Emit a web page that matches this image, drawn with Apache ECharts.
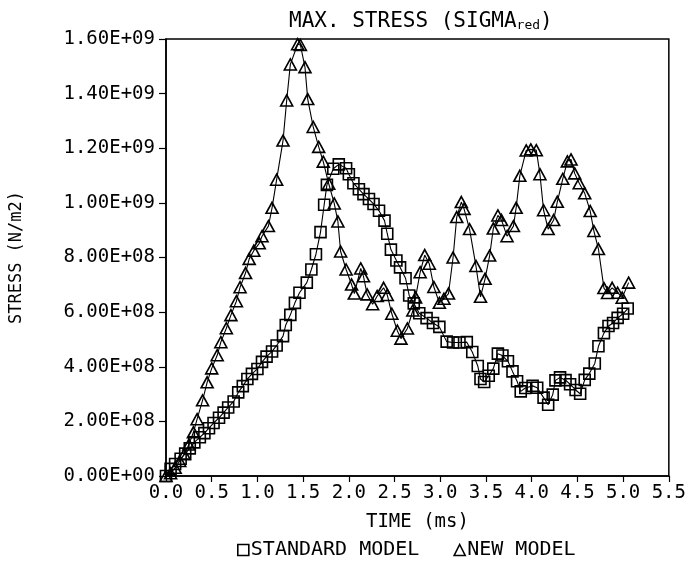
<!DOCTYPE html>
<html>
<head>
<meta charset="utf-8">
<script src="https://cdn.jsdelivr.net/npm/echarts@6/dist/echarts.min.js"></script>
<style>
html,body{margin:0;padding:0;background:#fff;}
#chart{width:689px;height:567px;}
</style>
</head>
<body>
<div id="chart"></div>
<script>
// ---- data (time in ms, stress in N/m2) ----
const stdTime = [0.00,0.05,0.10,0.16,0.21,0.26,0.31,0.37,0.42,0.47,0.52,0.58,0.63,0.68,0.74,0.79,0.84,0.89,0.94,1.00,
  1.05,1.10,1.16,1.21,1.28,1.31,1.36,1.41,1.46,1.54,1.59,1.64,1.69,1.73,1.76,1.83,1.89,1.97,2.00,2.05,
  2.11,2.16,2.22,2.27,2.33,2.39,2.42,2.46,2.52,2.56,2.62,2.66,2.71,2.77,2.85,2.92,2.99,3.07,3.14,3.21,
  3.29,3.35,3.41,3.44,3.48,3.53,3.58,3.63,3.68,3.74,3.79,3.84,3.88,3.93,4.01,4.06,4.13,4.18,4.23,4.26,
  4.31,4.37,4.42,4.48,4.53,4.58,4.63,4.69,4.73,4.79,4.84,4.89,4.94,5.00,5.05];
const stdStress = [0.00e8,0.26e8,0.44e8,0.63e8,0.82e8,1.01e8,1.23e8,1.42e8,1.57e8,1.75e8,1.94e8,2.13e8,2.32e8,2.51e8,2.73e8,3.06e8,3.29e8,3.55e8,3.74e8,3.92e8,
  4.18e8,4.37e8,4.56e8,4.78e8,5.12e8,5.53e8,5.90e8,6.34e8,6.71e8,7.08e8,7.56e8,8.12e8,8.93e8,9.93e8,10.66e8,11.25e8,11.41e8,11.27e8,11.05e8,10.72e8,
  10.50e8,10.32e8,10.14e8,9.96e8,9.71e8,9.35e8,8.87e8,8.29e8,7.89e8,7.64e8,7.24e8,6.61e8,6.32e8,5.96e8,5.78e8,5.60e8,5.46e8,4.92e8,4.89e8,4.89e8,
  4.90e8,4.54e8,4.03e8,3.55e8,3.44e8,3.67e8,3.93e8,4.48e8,4.41e8,4.20e8,3.83e8,3.47e8,3.10e8,3.22e8,3.30e8,3.23e8,2.87e8,2.61e8,2.98e8,3.50e8,
  3.61e8,3.51e8,3.36e8,3.15e8,3.01e8,3.52e8,3.75e8,4.12e8,4.75e8,5.23e8,5.49e8,5.60e8,5.79e8,5.94e8,6.13e8];

const newTime = [0.00,0.05,0.10,0.15,0.20,0.25,0.30,0.34,0.40,0.45,0.50,0.56,0.60,0.66,0.71,0.77,0.81,0.87,0.91,0.96,
  1.02,1.05,1.12,1.16,1.21,1.28,1.32,1.36,1.44,1.47,1.52,1.55,1.61,1.67,1.72,1.78,1.84,1.88,1.91,1.97,
  2.03,2.06,2.13,2.16,2.20,2.26,2.31,2.38,2.42,2.47,2.53,2.57,2.64,2.70,2.73,2.78,2.83,2.88,2.93,2.99,
  3.04,3.09,3.14,3.18,3.23,3.26,3.32,3.39,3.44,3.49,3.54,3.58,3.63,3.67,3.73,3.80,3.83,3.87,3.94,3.99,
  4.05,4.09,4.13,4.18,4.24,4.28,4.34,4.39,4.43,4.47,4.52,4.58,4.64,4.68,4.73,4.79,4.83,4.88,4.94,4.99,5.06];
const newStress = [0.00e8,0.10e8,0.30e8,0.55e8,0.80e8,1.15e8,1.60e8,2.08e8,2.77e8,3.43e8,3.94e8,4.42e8,4.90e8,5.41e8,5.89e8,6.40e8,6.91e8,7.43e8,7.95e8,8.25e8,
  8.52e8,8.78e8,9.15e8,9.82e8,10.85e8,12.28e8,13.75e8,15.07e8,15.81e8,15.78e8,14.97e8,13.80e8,12.78e8,12.05e8,11.51e8,10.70e8,9.98e8,9.32e8,8.22e8,7.56e8,
  7.01e8,6.68e8,7.60e8,7.31e8,6.65e8,6.29e8,6.59e8,6.89e8,6.63e8,5.94e8,5.32e8,5.03e8,5.40e8,6.06e8,6.54e8,7.46e8,8.09e8,7.77e8,6.92e8,6.34e8,
  6.49e8,6.68e8,8.00e8,9.48e8,10.03e8,9.78e8,9.04e8,7.69e8,6.56e8,7.22e8,8.07e8,9.06e8,9.54e8,9.37e8,8.78e8,9.15e8,9.82e8,10.99e8,11.92e8,11.96e8,
  11.93e8,11.05e8,9.73e8,9.04e8,9.37e8,10.04e8,10.88e8,11.52e8,11.59e8,11.08e8,10.72e8,10.35e8,9.70e8,8.97e8,8.31e8,6.88e8,6.70e8,6.89e8,6.71e8,6.53e8,7.08e8];

const seriesNames = ['STANDARD MODEL', 'NEW MODEL'];
const titleParts = ['MAX. STRESS (SIGMA', 'red', ')'];
const xAxisName = 'TIME (ms)';
const yAxisName = 'STRESS (N/m2)';

// ---- chart ----
const FONT = '"DejaVu Sans Mono", "Liberation Mono", monospace';
const chart = echarts.init(document.getElementById('chart'), null, {renderer: 'canvas'});

function sciLabel(v) {
  if (Math.abs(v) < 1) return '0.00E+00';
  const e = Math.floor(Math.log10(v) + 1e-9);
  const m = v / Math.pow(10, e);
  return m.toFixed(2) + 'E+' + String(e).padStart(2, '0');
}

const hollow = {color: 'rgba(0,0,0,0)', borderColor: '#000', borderWidth: 1.6};

chart.setOption({
  animation: false,
  backgroundColor: '#fff',
  title: {
    text: '{a|' + titleParts[0] + '}{b|' + titleParts[1] + '}{a|' + titleParts[2] + '}',
    left: 284, top: 6,
    textStyle: {
      fontWeight: 'normal',
      rich: {
        a: {fontFamily: FONT, fontSize: 21, fontWeight: 'normal', color: '#000'},
        b: {fontFamily: FONT, fontSize: 13, fontWeight: 'normal', color: '#000', padding: [8, 0, 0, 0]}
      }
    }
  },
  legend: {
    left: 232, top: 535,
    itemWidth: 11, itemHeight: 11, itemGap: 34,
    textStyle: {fontFamily: FONT, fontSize: 20, color: '#000', padding: [0, 0, 0, -3]},
    data: [
      {name: seriesNames[0], icon: 'rect', itemStyle: hollow},
      {name: seriesNames[1], icon: 'triangle', itemStyle: hollow}
    ]
  },
  grid: {left: 166, right: 13, top: 39, bottom: 91, show: true, borderColor: '#000', borderWidth: 1.5, backgroundColor: 'transparent'},
  xAxis: {
    type: 'value', min: 0, max: 5.5, interval: 0.5,
    name: xAxisName, nameLocation: 'middle', nameGap: 37,
    nameTextStyle: {fontFamily: FONT, fontSize: 19, color: '#000'},
    axisLine: {lineStyle: {color: '#000', width: 1.5}},
    axisTick: {inside: false, length: 6, lineStyle: {color: '#000', width: 1.2}},
    axisLabel: {fontFamily: FONT, fontSize: 19, color: '#000', margin: 8, hideOverlap: false,
      formatter: v => v.toFixed(1)},
    splitLine: {show: false}
  },
  yAxis: {
    type: 'value', min: 0, max: 1.6e9, interval: 2e8,
    name: yAxisName, nameLocation: 'middle', nameGap: 141, nameRotate: 90,
    nameTextStyle: {fontFamily: FONT, fontSize: 17, color: '#000'},
    axisLine: {show: true, lineStyle: {color: '#000', width: 1.5}},
    axisTick: {show: true, inside: false, length: 7, lineStyle: {color: '#000', width: 1.2}},
    axisLabel: {fontFamily: FONT, fontSize: 19, color: '#000', margin: 11, formatter: sciLabel},
    splitLine: {show: false}
  },
  series: [
    {
      name: seriesNames[0], type: 'line',
      data: stdTime.map((t, i) => [t, stdStress[i]]),
      symbol: 'rect', symbolSize: 11, showAllSymbol: true,
      lineStyle: {color: '#000', width: 1.1},
      itemStyle: hollow,
      emphasis: {disabled: true}
    },
    {
      name: seriesNames[1], type: 'line',
      data: newTime.map((t, i) => [t, newStress[i]]),
      symbol: 'triangle', symbolSize: [12, 11], showAllSymbol: true,
      lineStyle: {color: '#000', width: 1.1},
      itemStyle: hollow,
      emphasis: {disabled: true}
    }
  ]
});
</script>
</body>
</html>
